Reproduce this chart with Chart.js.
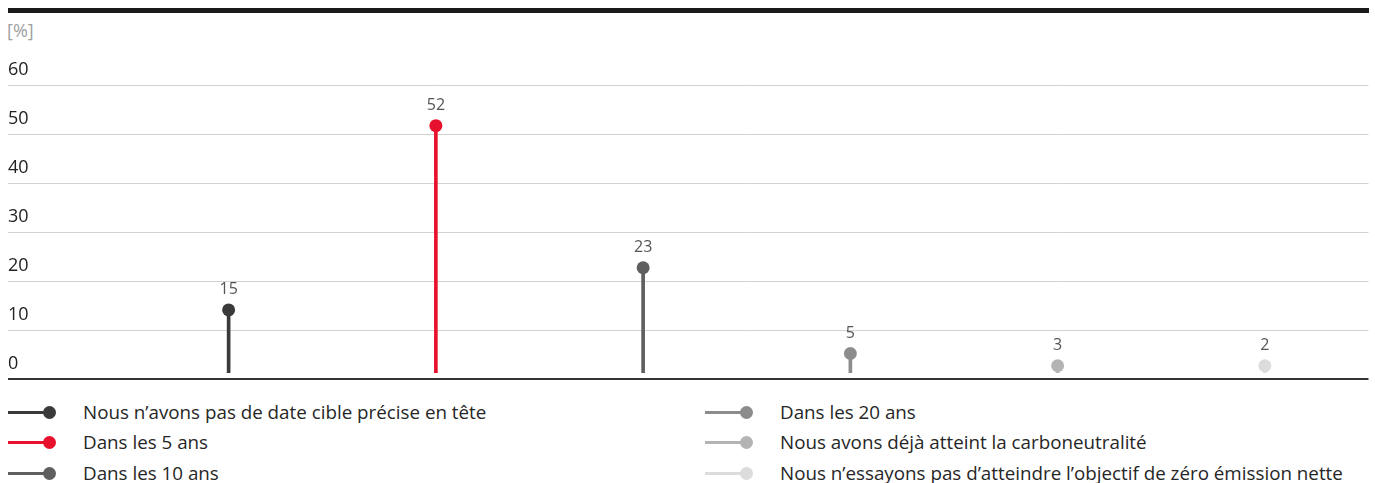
<!DOCTYPE html>
<html><head><meta charset="utf-8">
<script src="https://cdn.jsdelivr.net/npm/chart.js@4/dist/chart.umd.min.js"></script>
<style>
html,body{margin:0;padding:0;background:#fff;}
body{width:1375px;height:483px;position:relative;overflow:hidden;font-family:"Open Sans",sans-serif;}
#topbar{position:absolute;left:8px;top:8px;width:1361px;height:5px;background:#1a1a1a;}
#unit{position:absolute;left:7px;top:19px;font-size:18px;color:#a0a0a0;line-height:22px;}
#c{position:absolute;left:0;top:0;}
.li{position:absolute;height:22px;font-size:18.8px;color:#262626;line-height:22px;white-space:nowrap;}
.li .ln{position:absolute;left:0;top:10px;width:42px;height:3px;}
.li .dt{position:absolute;left:35px;top:5px;width:13px;height:13px;border-radius:50%;}
.li .tx{position:absolute;left:75px;top:0;}
</style></head>
<body>
<div id="topbar"></div>
<div id="unit">[%]</div>
<canvas id="c" width="1375" height="395"></canvas>
<div id="legend"></div>
<script>
const categories = [
  "Nous n’avons pas de date cible précise en tête",
  "Dans les 5 ans",
  "Dans les 10 ans",
  "Dans les 20 ans",
  "Nous avons déjà atteint la carboneutralité",
  "Nous n’essayons pas d’atteindre l’objectif de zéro émission nette"
];
const valueLabels = [15, 52, 23, 5, 3, 2];
const plottedValues = [14.1, 51.7, 22.7, 5.2, 2.7, 2.7];
const yTickValues = [0, 10, 20, 30, 40, 50, 60];
const seriesColors = ["#3a3a3a", "#e8112d", "#5f5f5f", "#8c8c8c", "#b4b4b4", "#dcdcdc"];

const valuePlugin = {
  id: 'vals',
  afterDatasetsDraw(chart) {
    const meta = chart.getDatasetMeta(1);
    const ctx = chart.ctx;
    ctx.save();
    ctx.font = '16px "Open Sans", sans-serif';
    ctx.fillStyle = '#555';
    ctx.textAlign = 'center';
    ctx.textBaseline = 'middle';
    meta.data.forEach((p, i) => ctx.fillText(String(valueLabels[i]), p.x, p.y - 20));
    ctx.restore();
  }
};

new Chart(document.getElementById('c'), {
  type: 'bar',
  data: {
    labels: categories,
    datasets: [
      {
        type: 'bar',
        data: plottedValues,
        base: 1.3,
        backgroundColor: seriesColors,
        barThickness: 3,
        order: 2
      },
      {
        type: 'line',
        data: plottedValues,
        showLine: false,
        pointRadius: 6.5,
        pointHoverRadius: 6.5,
        pointBorderWidth: 0,
        pointBackgroundColor: seriesColors,
        order: 1
      }
    ]
  },
  options: {
    responsive: false,
    devicePixelRatio: 1,
    animation: false,
    events: [],
    layout: { padding: { left: 8, right: 6, top: 85, bottom: 16 } },
    plugins: { legend: { display: false }, tooltip: { enabled: false } },
    scales: {
      x: { display: false, offset: true },
      y: {
        min: 0, max: 60,
        afterBuildTicks(scale) { scale.ticks = yTickValues.map(v => ({ value: v })); },
        afterFit(scale) { scale.width = 117; },
        border: { display: false },
        grid: {
          color: c => c.tick && c.tick.value === 0 ? '#333' : '#d2d2d2',
          lineWidth: c => c.tick && c.tick.value === 0 ? 2 : 1,
          tickLength: 117,
          drawTicks: true
        },
        ticks: {
          crossAlign: 'far',
          labelOffset: -15,
          padding: 0,
          color: '#222',
          font: { size: 18, family: '"Open Sans", sans-serif' }
        }
      }
    }
  },
  plugins: [valuePlugin]
});

const legend = document.getElementById('legend');
const rowTops = [401, 431, 462];
categories.forEach((name, i) => {
  const col = Math.floor(i / 3), row = i % 3;
  const el = document.createElement('div');
  el.className = 'li';
  el.style.left = (8 + col * 697) + 'px';
  el.style.top = rowTops[row] + 'px';
  el.innerHTML = '<div class="ln" style="background:' + seriesColors[i] + '"></div>' +
    '<div class="dt" style="background:' + seriesColors[i] + '"></div>' +
    '<div class="tx"></div>';
  el.querySelector('.tx').textContent = name;
  legend.appendChild(el);
});
</script>
</body></html>
